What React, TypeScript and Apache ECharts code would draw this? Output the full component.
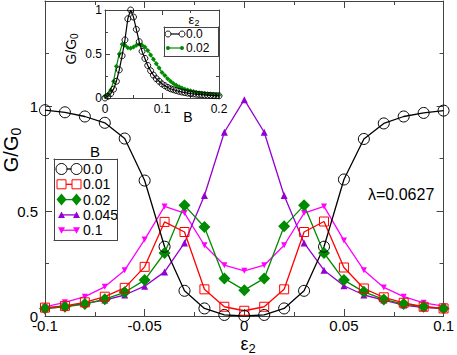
import React, { useEffect, useRef } from "react";
import * as echarts from "echarts";

// ---- main plot data: G/G0 vs epsilon_2 for several B ----
const epsValues = [-0.1, -0.09, -0.08, -0.07, -0.06, -0.05, -0.04, -0.03, -0.02, -0.01, 0, 0.01, 0.02, 0.03, 0.04, 0.05, 0.06, 0.07, 0.08, 0.09, 0.1];
const gB0 = [0.98, 0.97, 0.95, 0.92, 0.845, 0.645, 0.33, 0.12, 0.036, 0.005, 0.0, 0.005, 0.036, 0.12, 0.33, 0.65, 0.843, 0.917, 0.95, 0.967, 0.978];
const gB001 = [0.04, 0.048, 0.065, 0.092, 0.134, 0.234, 0.448, 0.4, 0.127, 0.044, 0.025, 0.044, 0.127, 0.4, 0.45, 0.231, 0.131, 0.089, 0.063, 0.044, 0.036];
const gB002 = [0.036, 0.044, 0.057, 0.08, 0.113, 0.171, 0.3, 0.527, 0.424, 0.179, 0.123, 0.179, 0.427, 0.527, 0.3, 0.171, 0.115, 0.079, 0.057, 0.044, 0.036];
const gB0045 = [0.035, 0.045, 0.06, 0.076, 0.1, 0.142, 0.21, 0.348, 0.574, 0.875, 1.03, 0.875, 0.574, 0.348, 0.218, 0.144, 0.1, 0.076, 0.052, 0.04, 0.036];
const gB01 = [0.044, 0.065, 0.092, 0.139, 0.218, 0.364, 0.522, 0.49, 0.337, 0.242, 0.215, 0.242, 0.337, 0.49, 0.522, 0.36, 0.218, 0.136, 0.092, 0.063, 0.047];
const mainLabels = ["0.0", "0.01", "0.02", "0.045", "0.1"];

// ---- inset data: G/G0 vs B for two epsilon_2 ----
const bValues = [0, 0.005, 0.01, 0.015, 0.02, 0.025, 0.03, 0.035, 0.04, 0.045, 0.05, 0.055, 0.06, 0.065, 0.07, 0.075, 0.08, 0.085, 0.09, 0.095, 0.1, 0.105, 0.11, 0.115, 0.12, 0.125, 0.13, 0.135, 0.14, 0.145, 0.15, 0.155, 0.16, 0.165, 0.17, 0.175, 0.18, 0.185, 0.19, 0.195, 0.2];
const gEps0 = [0.0, 0.02, 0.05, 0.1, 0.19, 0.32, 0.48, 0.66, 0.9, 1.0, 0.92, 0.78, 0.64, 0.53, 0.45, 0.37, 0.31, 0.26, 0.22, 0.19, 0.16, 0.14, 0.12, 0.105, 0.095, 0.085, 0.076, 0.068, 0.062, 0.056, 0.051, 0.047, 0.043, 0.04, 0.037, 0.034, 0.032, 0.03, 0.028, 0.026, 0.025];
const gEps002 = [0.02, 0.04, 0.09, 0.19, 0.36, 0.5, 0.61, 0.6, 0.57, 0.565, 0.58, 0.6, 0.61, 0.6, 0.58, 0.54, 0.49, 0.44, 0.39, 0.34, 0.29, 0.255, 0.22, 0.19, 0.165, 0.145, 0.128, 0.113, 0.1, 0.09, 0.081, 0.073, 0.066, 0.06, 0.055, 0.05, 0.046, 0.043, 0.04, 0.037, 0.035];
const insetLabels = ["0.0", "0.02"];

const FONT = "'Liberation Sans', Arial, sans-serif";
const AX = "#444";
const BOX = "#444";
const BLACK = "#000000";
const RED = "#ff0000";
const GREEN = "#008b00";
const PURPLE = "#9400d3";
const MAGENTA = "#ff00ff";

const zip = (xs: number[], ys: number[]) => xs.map((x, i) => [x, ys[i]]);

function axisCommon(fs: number, tickLen: number, minorLen: number) {
  return {
    axisLine: { show: true, onZero: false, lineStyle: { color: AX, width: 1 } },
    axisTick: { show: true, inside: true, length: tickLen, lineStyle: { color: AX } },
    minorTick: { show: true, splitNumber: 2, length: minorLen, lineStyle: { color: AX } },
    splitLine: { show: false },
    minorSplitLine: { show: false },
    axisLabel: { color: "#000", fontSize: fs, fontFamily: FONT },
  };
}

// frame axis for legend boxes: only the axis line
const frameAxis = (gridIndex: number, position: string, z: number) => ({
  type: "value",
  gridIndex,
  min: 0,
  max: 1,
  position,
  z,
  axisLine: { show: true, onZero: false, lineStyle: { color: BOX, width: 1 } },
  axisTick: { show: false },
  axisLabel: { show: false },
  splitLine: { show: false },
});

function frameLines(x: number, y: number, w: number, h: number) {
  const seg = (x1: number, y1: number, x2: number, y2: number) => ({
    type: "line",
    z: 100,
    shape: { x1, y1, x2, y2 },
    style: { stroke: BOX, lineWidth: 1 },
  });
  return [seg(x, y, x + w, y), seg(x + w, y, x + w, y + h), seg(x, y + h, x + w, y + h), seg(x, y, x, y + h)];
}

export default function App() {
  const ref = useRef<HTMLDivElement>(null);
  useEffect(() => {
    document.body.style.margin = "0";
    const chart = echarts.init(ref.current!, null, { renderer: "svg" });

    const mainSeries = [
      { name: "0.1", data: zip(epsValues, gB01), color: MAGENTA, symbol: "triangle", size: 6, rotate: 180, fill: true },
      { name: "0.045", data: zip(epsValues, gB0045), color: PURPLE, symbol: "triangle", size: 7, rotate: 0, fill: true },
      { name: "0.02", data: zip(epsValues, gB002), color: GREEN, symbol: "diamond", size: 12, rotate: 0, fill: true },
      { name: "0.01", data: zip(epsValues, gB001), color: RED, symbol: "rect", size: 9, rotate: 0, fill: false },
      { name: "0.0", data: zip(epsValues, gB0), color: BLACK, symbol: "circle", size: 11, rotate: 0, fill: false },
    ].map((s) => ({
      type: "line",
      name: s.name,
      xAxisIndex: 0,
      yAxisIndex: 0,
      data: s.data,
      symbol: s.symbol,
      symbolSize: s.size,
      symbolRotate: s.rotate,
      showSymbol: true,
      lineStyle: { color: s.color, width: 1.3 },
      itemStyle: s.fill
        ? { color: s.color, borderWidth: 0 }
        : { color: "rgba(255,255,255,0)", borderColor: s.color, borderWidth: 1 },
      z: 3,
    }));

    const insetSeries = [
      {
        type: "line",
        name: "inset0.0",
        xAxisIndex: 2,
        yAxisIndex: 2,
        data: zip(bValues, gEps0),
        symbol: "circle",
        symbolSize: 6,
        lineStyle: { color: BLACK, width: 1.2 },
        itemStyle: { color: "rgba(255,255,255,0)", borderColor: BLACK, borderWidth: 0.9 },
        z: 6,
      },
      {
        type: "line",
        name: "inset0.02",
        xAxisIndex: 2,
        yAxisIndex: 2,
        data: zip(bValues, gEps002),
        symbol: "diamond",
        symbolSize: 5,
        lineStyle: { color: GREEN, width: 1.2 },
        itemStyle: { color: GREEN, borderWidth: 0 },
        z: 5,
      },
    ];

    // Legend graphics (main)
    const legendRowsY = [169, 184.3, 199.6, 214.9, 230.2];
    const legendStyles = [
      { color: BLACK, kind: "circle" },
      { color: RED, kind: "rect" },
      { color: GREEN, kind: "diamond" },
      { color: PURPLE, kind: "tri" },
      { color: MAGENTA, kind: "tridown" },
    ];
    const sym = (kind: string, cx: number, cy: number, color: string) => {
      if (kind === "circle") return { type: "circle", shape: { cx, cy, r: 5.5 }, style: { fill: "#ffffff", stroke: color, lineWidth: 1 } };
      if (kind === "rect") return { type: "polygon", shape: { points: [[cx - 4.5, cy - 4.5], [cx + 4.5, cy - 4.5], [cx + 4.5, cy + 4.5], [cx - 4.5, cy + 4.5]] }, style: { fill: "#ffffff", stroke: color, lineWidth: 1 } };
      if (kind === "diamond") return { type: "polygon", shape: { points: [[cx, cy - 6], [cx + 5, cy], [cx, cy + 6], [cx - 5, cy]] }, style: { fill: color } };
      if (kind === "tri") return { type: "polygon", shape: { points: [[cx, cy - 3.5], [cx + 3.5, cy + 3], [cx - 3.5, cy + 3]] }, style: { fill: color } };
      return { type: "polygon", shape: { points: [[cx, cy + 3.5], [cx + 3.5, cy - 3], [cx - 3.5, cy - 3]] }, style: { fill: color } };
    };
    const mainLegend: any[] = [
      ...frameLines(54.5, 159.5, 63, 81),
      { type: "text", x: 95, y: 151, style: { text: "B", fontSize: 15, fontFamily: FONT, fill: "#000", align: "center", verticalAlign: "middle" }, z: 51 },
    ];
    legendStyles.forEach((ls, i) => {
      const y = legendRowsY[i];
      mainLegend.push({ type: "line", shape: { x1: 61.5, y1: y, x2: 76.5, y2: y }, style: { stroke: ls.color, lineWidth: 1.3 }, z: 52 });
      mainLegend.push({ ...sym(ls.kind, 61.5, y, ls.color), z: 53 });
      mainLegend.push({ ...sym(ls.kind, 76.5, y, ls.color), z: 53 });
      mainLegend.push({ type: "text", x: 83, y, style: { text: mainLabels[i], fontSize: 14, fontFamily: FONT, fill: "#000", align: "left", verticalAlign: "middle" }, z: 53 });
    });

    // inset legend
    const insetRowsY = [34, 48];
    const insetLegend: any[] = [
      ...frameLines(164.5, 27.5, 54, 29),
      { type: "text", x: 194, y: 19, style: { text: "{e|ε}{s|2}", fontFamily: FONT, fill: "#000", align: "center", verticalAlign: "middle", rich: { e: { fontSize: 13, fontFamily: FONT }, s: { fontSize: 9, fontFamily: FONT, padding: [7, 0, 0, 0] } } }, z: 61 },
    ];
    insetRowsY.forEach((y, i) => {
      const color = i === 0 ? BLACK : GREEN;
      insetLegend.push({ type: "line", shape: { x1: 168, y1: y, x2: 182, y2: y }, style: { stroke: color, lineWidth: 1.2 }, z: 62 });
      if (i === 0) {
        insetLegend.push({ type: "circle", shape: { cx: 168, cy: y, r: 3 }, style: { fill: "#ffffff", stroke: color, lineWidth: 0.9 }, z: 63 });
        insetLegend.push({ type: "circle", shape: { cx: 182, cy: y, r: 3 }, style: { fill: "#ffffff", stroke: color, lineWidth: 0.9 }, z: 63 });
      } else {
        insetLegend.push({ type: "circle", shape: { cx: 168, cy: y, r: 2 }, style: { fill: color }, z: 63 });
        insetLegend.push({ type: "circle", shape: { cx: 182, cy: y, r: 2 }, style: { fill: color }, z: 63 });
      }
      insetLegend.push({ type: "text", x: 186, y, style: { text: insetLabels[i], fontSize: 12, fontFamily: FONT, fill: "#000", align: "left", verticalAlign: "middle" }, z: 63 });
    });

    const titles: any[] = [
      {
        type: "group", x: 11, y: 150, rotation: Math.PI / 2, z: 40,
        children: [
          { type: "text", x: 0, y: 0, style: { text: "{g|G/G}{s|0}", align: "center", verticalAlign: "middle", fill: "#000", rich: { g: { fontSize: 20, fontFamily: FONT }, s: { fontSize: 14, fontFamily: FONT, padding: [10, 0, 0, 0] } } } },
        ],
      },
      { type: "text", x: 248, y: 344, z: 40, style: { text: "{e|ε}{s|2}", align: "center", verticalAlign: "middle", fill: "#000", rich: { e: { fontSize: 18, lineHeight: 16, fontFamily: FONT }, s: { fontSize: 13, lineHeight: 10, fontFamily: FONT, padding: [8, 0, 0, 0] } } } },
      {
        type: "group", x: 71, y: 49, rotation: Math.PI / 2, z: 40,
        children: [
          { type: "text", x: 0, y: 0, style: { text: "{g|G/G}{s|0}", align: "center", verticalAlign: "middle", fill: "#000", rich: { g: { fontSize: 14, fontFamily: FONT }, s: { fontSize: 10, fontFamily: FONT, padding: [7, 0, 0, 0] } } } },
        ],
      },
      { type: "text", x: 188, y: 117, z: 40, style: { text: "B", fontSize: 14, fontFamily: FONT, fill: "#000", align: "center", verticalAlign: "middle" } },
      { type: "text", x: 368, y: 194, z: 40, style: { text: "λ=0.0627", fontSize: 16, fontFamily: FONT, fill: "#000", align: "left", verticalAlign: "middle" } },
    ];

    const mainC = axisCommon(15, 7, 4);
    const insC = axisCommon(12, 5, 3);

    chart.setOption({
      animation: false,
      backgroundColor: "#fff",
      grid: [
        { left: 45, right: 11, top: 1, bottom: 39, containLabel: false },
        { left: 105, top: 10, width: 114, height: 88, show: true, backgroundColor: "#fff", borderWidth: 0, z: 4 },
        { left: 54, top: 159, width: 63, height: 81, show: true, backgroundColor: "#fff", borderWidth: 0, z: 5 },
        { left: 164, top: 27, width: 54, height: 29, show: true, backgroundColor: "#fff", borderWidth: 0, z: 7 },
      ],
      xAxis: [
        { ...mainC, type: "value", gridIndex: 0, min: -0.1, max: 0.1, interval: 0.05, position: "bottom", axisLabel: { ...mainC.axisLabel, margin: 3, lineHeight: 12 } },
        { ...mainC, type: "value", gridIndex: 0, min: -0.1, max: 0.1, interval: 0.05, position: "top", axisLabel: { show: false } },
        { ...insC, type: "value", gridIndex: 1, min: 0, max: 0.2, interval: 0.1, position: "bottom", axisLabel: { ...insC.axisLabel, margin: 5 }, z: 5 },
        { ...insC, type: "value", gridIndex: 1, min: 0, max: 0.2, interval: 0.1, position: "top", axisLabel: { show: false }, z: 5 },
        frameAxis(2, "bottom", 6),
        frameAxis(2, "top", 6),
        frameAxis(3, "bottom", 8),
        frameAxis(3, "top", 8),
      ],
      yAxis: [
        { ...mainC, type: "value", gridIndex: 0, min: 0, max: 1.5, interval: 0.5, position: "left", axisLabel: { ...mainC.axisLabel, margin: 7, lineHeight: 10, formatter: (v: number) => (v > 1.2 ? "" : String(v)) } },
        { ...mainC, type: "value", gridIndex: 0, min: 0, max: 1.5, interval: 0.5, position: "right", axisLabel: { show: false } },
        { ...insC, type: "value", gridIndex: 1, min: 0, max: 1, interval: 0.5, position: "left", axisLabel: { ...insC.axisLabel, margin: 3 }, z: 5 },
        { ...insC, type: "value", gridIndex: 1, min: 0, max: 1, interval: 0.5, position: "right", axisLabel: { show: false }, z: 5 },
        frameAxis(2, "left", 6),
        frameAxis(2, "right", 6),
        frameAxis(3, "left", 8),
        frameAxis(3, "right", 8),
      ],
      series: [...mainSeries, ...insetSeries],
      graphic: [...titles, ...mainLegend, ...insetLegend],
    } as any);
    return () => chart.dispose();
  }, []);
  return <div ref={ref} style={{ width: 457, height: 355 }} />;
}
